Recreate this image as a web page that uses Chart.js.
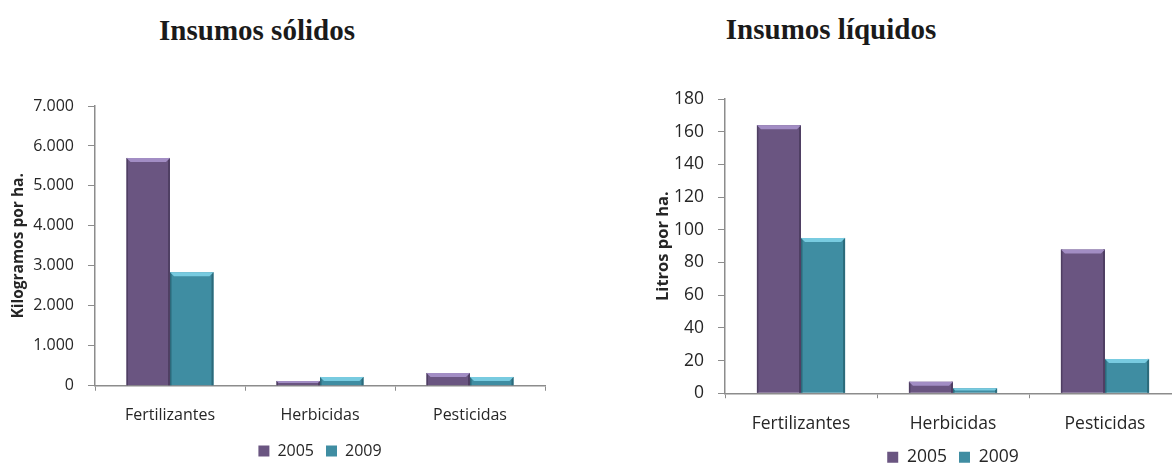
<!DOCTYPE html>
<html>
<head>
<meta charset="utf-8">
<script src="https://cdn.jsdelivr.net/npm/chart.js@4/dist/chart.umd.min.js"></script>
<style>
  html, body { margin: 0; padding: 0; background: #fff; overflow: hidden; }
  body { width: 1172px; height: 466px; position: relative; }
  .titulo { position: absolute; font-family: "Liberation Serif", serif; font-weight: bold; color: #1a1a1a; line-height: 1; text-align: center; width: 400px; white-space: nowrap; font-size: 29px; }
  .caja { position: absolute; top: 0; }
</style>
</head>
<body>
<div class="titulo" style="left:57px; top:16px;">Insumos sólidos</div>
<div class="titulo" style="left:631px; top:15px;">Insumos líquidos</div>
<div class="caja" style="left:0; width:585px; height:469px;"><canvas id="solidos"></canvas></div>
<div class="caja" style="left:600px; width:620px; height:476px;"><canvas id="liquidos"></canvas></div>
<script>
// ---------- datos ----------
const categorias = ["Fertilizantes", "Herbicidas", "Pesticidas"];
const anios = ["2005", "2009"];

const solidos2005 = [5700, 120, 320];
const solidos2009 = [2840, 220, 220];
const ticksSolidos = ["0", "1.000", "2.000", "3.000", "4.000", "5.000", "6.000", "7.000"];

const liquidos2005 = [164, 7, 88];
const liquidos2009 = [95, 3, 21];
const ticksLiquidos = ["0", "20", "40", "60", "80", "100", "120", "140", "160", "180"];

// ---------- estilos ----------
const colores = {
  "2005": { body: "#6a5581", top: "#a28dc4", edge: "#4f3f63" },
  "2009": { body: "#3f8da2", top: "#78cbe0", edge: "#2c6a7b" }
};
const gris = "#8c8c8c";
const texto = "#262626";

// bisel superior como en el grafico de Excel
const bisel = {
  id: "bisel",
  afterDatasetsDraw(chart) {
    const ctx = chart.ctx;
    ctx.save();
    chart.data.datasets.forEach((ds, i) => {
      const c = colores[ds.label];
      chart.getDatasetMeta(i).data.forEach(bar => {
        const { x, y, base, width } = bar.getProps(["x", "y", "base", "width"], true);
        const l = x - width / 2, r = x + width / 2, h = base - y;
        if (h <= 0) return;
        const b = Math.min(4, h / 2);
        ctx.fillStyle = c.edge;
        ctx.fillRect(r - 2, y, 2, h);
        ctx.fillRect(l, y, 1.5, h);
        ctx.fillStyle = c.top;
        ctx.beginPath();
        ctx.moveTo(l, y);
        ctx.lineTo(r, y);
        ctx.lineTo(r - b, y + b);
        ctx.lineTo(l + b, y + b);
        ctx.closePath();
        ctx.fill();
      });
    });
    ctx.restore();
  }
};

function grafico(id, d2005, d2009, etiquetas, max, paso, cfg) {
  const fuente = { family: "'Open Sans'", size: cfg.fs };
  new Chart(document.getElementById(id), {
    type: "bar",
    data: {
      labels: categorias,
      datasets: [
        { label: anios[0], data: d2005, backgroundColor: colores["2005"].body, borderWidth: 0 },
        { label: anios[1], data: d2009, backgroundColor: colores["2009"].body, borderWidth: 0 }
      ]
    },
    options: {
      responsive: true,
      maintainAspectRatio: false,
      animation: false,
      datasets: { bar: { categoryPercentage: 0.58, barPercentage: 1 } },
      layout: { padding: { top: cfg.top, right: cfg.right, left: 0, bottom: 0 } },
      plugins: {
        title: { display: false },
        tooltip: { enabled: false },
        legend: {
          position: "bottom",
          fullSize: false,
          labels: { boxWidth: 11, boxHeight: 11, padding: 12, color: texto, font: fuente }
        }
      },
      scales: {
        x: {
          grid: { display: true, offset: true, drawOnChartArea: false, tickLength: 5, color: gris, lineWidth: 1 },
          border: { display: true, color: gris, width: 1.5 },
          ticks: { color: texto, font: fuente, padding: cfg.xpad, maxRotation: 0 },
          afterFit: s => { s.height = cfg.xh; }
        },
        y: {
          min: 0,
          max: max,
          grid: { display: true, drawOnChartArea: false, tickLength: 7, color: gris, lineWidth: 1 },
          border: { display: true, color: gris, width: 1.5 },
          ticks: { stepSize: paso, color: texto, font: fuente, padding: 14, callback: (v, i) => etiquetas[i] },
          title: {
            display: true,
            text: cfg.ytitle,
            color: texto,
            font: { family: "'Open Sans'", size: cfg.yfs, weight: "bold" },
            padding: { top: cfg.ytpad, bottom: 0 }
          },
          afterFit: s => { s.width = cfg.yw; }
        }
      }
    },
    plugins: [bisel]
  });
}

grafico("solidos", solidos2005, solidos2009, ticksSolidos, 7000, 1000,
  { fs: 16, yfs: 15.5, top: 106, right: 40, yw: 95, ytpad: 9.7, xpad: 15.4, xh: 45.25, ytitle: "Kilogramos por ha." });
grafico("liquidos", liquidos2005, liquidos2009, ticksLiquidos, 180, 20,
  { fs: 17.5, yfs: 16.5, top: 99, right: 39, yw: 125, ytpad: 53, xpad: 15.5, xh: 43.25, ytitle: "Litros por ha." });
</script>
</body>
</html>
